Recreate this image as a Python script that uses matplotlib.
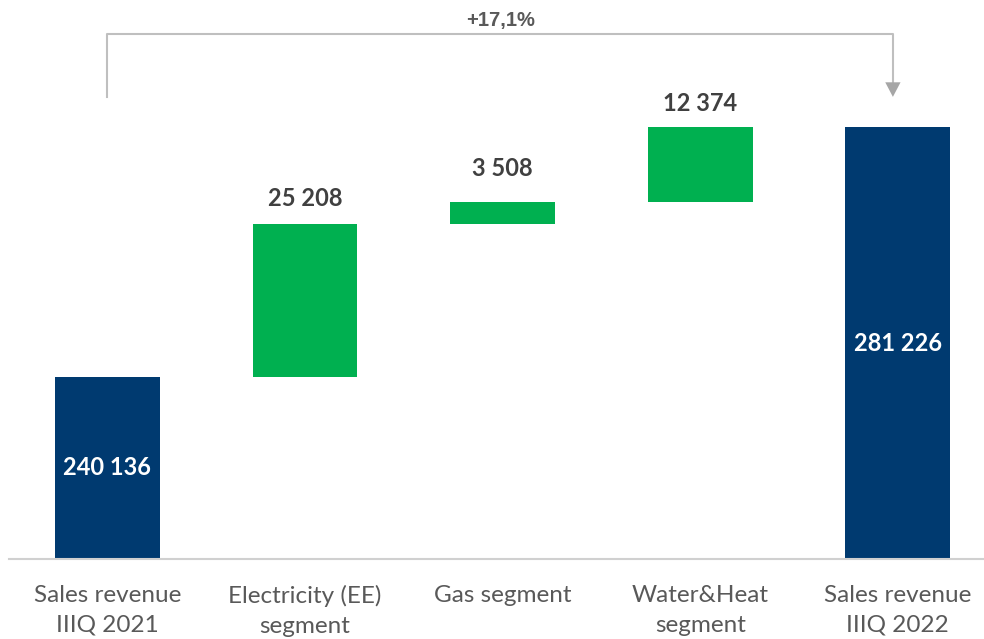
import matplotlib
matplotlib.use("Agg")
import matplotlib.pyplot as plt

categories = ["Sales revenue\nIIIQ 2021", "Electricity (EE)\nsegment", "Gas segment",
              "Water&Heat\nsegment", "Sales revenue\nIIIQ 2022"]
start_total = 240136
deltas = [25208, 3508, 12374]
end_total = 281226

navy = "#003A70"
green = "#00B050"
grey_line = "#BFBFBF"

fig = plt.figure(figsize=(9.84, 6.39), dpi=100)
ax = fig.add_axes([9 / 984, 80 / 639, 975 / 984, 559 / 639])

width = 0.53
x = list(range(len(categories)))

# totals
ax.bar(x[0], start_total, width, color=navy, zorder=2)
ax.bar(x[-1], end_total, width, color=navy, zorder=2)

# steps
bottoms = []
running = start_total
for d in deltas:
    bottoms.append(running)
    running += d
ax.bar(x[1:4], deltas, width, bottom=bottoms, color=green, zorder=2)

ymin = 210222
ax.set_ylim(ymin, 302100)
ax.set_xlim(-0.498, 4.436)

def fmt(v):
    return f"{v:,}".replace(",", " ")

label_font = "Lato"
# inside labels for totals
ax.text(x[0], (ymin + start_total) / 2, fmt(start_total), ha="center", va="center",
        color="white", fontsize=17, fontweight="bold", family=label_font)
ax.text(x[-1], (ymin + end_total) / 2, fmt(end_total), ha="center", va="center",
        color="white", fontsize=17, fontweight="bold", family=label_font)

# labels above the steps
offsets = [25, 34, 24]
for i, d in enumerate(deltas):
    ax.annotate(fmt(d), (x[i + 1], bottoms[i] + d), xytext=(0, offsets[i]),
                textcoords="offset pixels", ha="center", va="center",
                color="#404040", fontsize=17, fontweight="bold", family=label_font)

# bracket with arrow
b_low = end_total + 4950
b_high = end_total + 15300
x_right = 3.975
ax.plot([x[0], x[0], x_right, x_right], [b_low, b_high, b_high, b_low + 2300],
        color=grey_line, lw=1.5, clip_on=False, zorder=3)
ax.annotate("", xy=(x_right, b_low), xytext=(x_right, b_low + 2500),
            arrowprops=dict(arrowstyle="-|>,head_length=1.05,head_width=0.55",
                            color="#A6A6A6", lw=0, shrinkA=0, shrinkB=0),
            annotation_clip=False)
growth = (end_total / start_total - 1) * 100
ax.text((x[0] + x_right) / 2, b_high + 2200, "+" + f"{growth:.1f}".replace(".", ",") + "%",
        ha="center", va="center", color="#595959", fontsize=14.5, fontweight="bold",
        family="Liberation Sans")

for s in ["top", "right", "left"]:
    ax.spines[s].set_visible(False)
ax.spines["bottom"].set_color("#D0D0D0")
ax.spines["bottom"].set_linewidth(1.5)
ax.set_yticks([])
ax.set_xticks(x)
ax.set_xticklabels(categories, fontsize=17.5, color="#595959", family=label_font)
ax.tick_params(axis="x", length=0, pad=19)
for t in ax.get_xticklabels():
    t.set_va("top")
    t.set_linespacing(1.5)

fig.savefig("out.png", dpi=100)
